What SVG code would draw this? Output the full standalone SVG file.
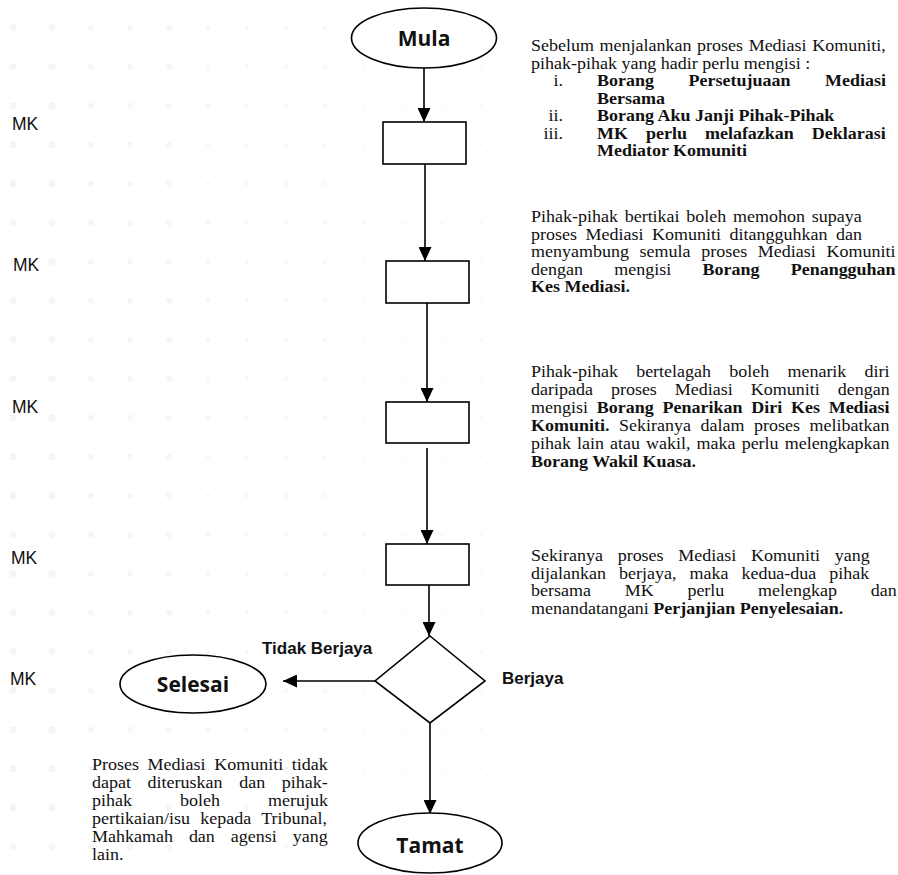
<svg xmlns="http://www.w3.org/2000/svg" width="898" height="875" viewBox="0 0 898 875">
<style>
.bg{fill:#ffffff}
.shape{fill:#ffffff;stroke:#000000;stroke-width:1.6}
.conn{fill:none;stroke:#000000;stroke-width:1.6}
.term{font-family:"Open Sans","Noto Sans",sans-serif;font-weight:700;font-size:21px;fill:#111111;text-anchor:middle}
.lbl{font-family:"Liberation Sans",Arial,sans-serif;font-weight:700;font-size:17px;fill:#111111}
.mk{font-family:"Liberation Sans",Arial,sans-serif;font-size:17.5px;fill:#111111}
.p{font-family:"Liberation Serif","Times New Roman",serif;font-size:16px;fill:#111111}
.b{font-weight:700}
.num{text-anchor:end}
</style>
<defs>
<marker id="arr" markerUnits="userSpaceOnUse" markerWidth="14" markerHeight="13" refX="14" refY="6.5" orient="auto">
<path d="M0,0 L14,6.5 L0,13 Z" fill="#000000"/>
</marker>
<pattern id="dA" patternUnits="userSpaceOnUse" width="39" height="39"><circle cx="13" cy="27.7" r="3.6" fill="#f4f5f5"/></pattern>
<pattern id="dB" patternUnits="userSpaceOnUse" width="39" height="39"><circle cx="13" cy="27.7" r="3" fill="#f5f6f6"/></pattern>
<pattern id="dC" patternUnits="userSpaceOnUse" width="39" height="39"><circle cx="13" cy="27.7" r="2.2" fill="#f6f7f7"/></pattern>
<pattern id="dD" patternUnits="userSpaceOnUse" width="39" height="39"><circle cx="13" cy="27.7" r="1.5" fill="#f7f8f8"/></pattern>
</defs>
<rect class="bg" x="0" y="0" width="898" height="875"/>
<g id="background-dots">
<rect x="0" y="0" width="78" height="875" fill="url(#dA)"/>
<rect x="78" y="0" width="117" height="875" fill="url(#dB)"/>
<rect x="195" y="0" width="156" height="875" fill="url(#dC)"/>
<rect x="351" y="0" width="195" height="875" fill="url(#dD)"/>
</g>

<g id="connectors">
<line class="conn" x1="424" y1="68" x2="424" y2="122" marker-end="url(#arr)"/>
<line class="conn" x1="425" y1="164" x2="425" y2="261" marker-end="url(#arr)"/>
<line class="conn" x1="427" y1="303" x2="427" y2="402" marker-end="url(#arr)"/>
<line class="conn" x1="427" y1="448" x2="427" y2="544" marker-end="url(#arr)"/>
<line class="conn" x1="429" y1="585" x2="429" y2="636" marker-end="url(#arr)"/>
<line class="conn" x1="375" y1="681" x2="283" y2="681" marker-end="url(#arr)"/>
<line class="conn" x1="430" y1="723" x2="430" y2="814" marker-end="url(#arr)"/>
</g>

<g id="node-mula">
<ellipse class="shape" cx="424" cy="38" rx="72.5" ry="30"/>
<text class="term" x="424" y="46">Mula</text>
</g>
<g id="node-box1"><rect class="shape" x="383" y="122" width="83" height="42"/></g>
<g id="node-box2"><rect class="shape" x="386" y="261" width="83" height="42"/></g>
<g id="node-box3"><rect class="shape" x="386" y="402" width="83" height="41"/></g>
<g id="node-box4"><rect class="shape" x="386" y="544" width="83" height="41"/></g>
<g id="node-decision"><polygon class="shape" points="430,636 485,681 430,723 375,681"/></g>
<g id="node-selesai">
<ellipse class="shape" cx="193" cy="684" rx="73" ry="29"/>
<text class="term" x="193" y="692">Selesai</text>
</g>
<g id="node-tamat">
<ellipse class="shape" cx="430" cy="843" rx="72" ry="30"/>
<text class="term" x="430" y="853">Tamat</text>
</g>

<g id="edge-labels">
<text class="lbl" x="262" y="654">Tidak Berjaya</text>
<text class="lbl" x="502" y="684">Berjaya</text>
</g>

<g id="mk-labels">
<text class="mk" x="12" y="130">MK</text>
<text class="mk" x="13" y="271">MK</text>
<text class="mk" x="12" y="413">MK</text>
<text class="mk" x="11" y="564">MK</text>
<text class="mk" x="10" y="685">MK</text>
</g>

<g id="note-1">
<text class="p" transform="translate(531 51) scale(1.125 1)" style="word-spacing:1px">Sebelum menjalankan proses Mediasi Komuniti,</text>
<text class="p" transform="translate(531 68.5) scale(1.125 1)">pihak-pihak yang hadir perlu mengisi :</text>
<text class="p num" transform="translate(563 86) scale(1.125 1)">i.</text>
<text class="p b" transform="translate(597 86) scale(1.125 1)" style="word-spacing:26.7px">Borang Persetujuaan Mediasi</text>
<text class="p b" transform="translate(597 103.5) scale(1.125 1)">Bersama</text>
<text class="p num" transform="translate(563 121) scale(1.125 1)">ii.</text>
<text class="p b" transform="translate(597 121) scale(1.125 1)">Borang Aku Janji Pihak-Pihak</text>
<text class="p num" transform="translate(563 138.5) scale(1.125 1)">iii.</text>
<text class="p b" transform="translate(597 138.5) scale(1.125 1)" style="word-spacing:12px">MK perlu melafazkan Deklarasi</text>
<text class="p b" transform="translate(597 156) scale(1.125 1)">Mediator Komuniti</text>
</g>

<g id="note-2">
<text class="p" transform="translate(531 222) scale(1.125 1)" style="word-spacing:2px">Pihak-pihak bertikai boleh memohon supaya</text>
<text class="p" transform="translate(531 239.5) scale(1.125 1)" style="word-spacing:3.6px">proses Mediasi Komuniti ditangguhkan dan</text>
<text class="p" transform="translate(531 257) scale(1.125 1)" style="word-spacing:5.5px">menyambung semula proses Mediasi Komuniti</text>
<text class="p" transform="translate(531 274.5) scale(1.125 1)" style="word-spacing:23.8px">dengan mengisi <tspan class="b">Borang Penangguhan</tspan></text>
<text class="p b" transform="translate(531 292) scale(1.125 1)">Kes Mediasi.</text>
</g>

<g id="note-3">
<text class="p" transform="translate(531 377) scale(1.125 1)" style="word-spacing:12.2px">Pihak-pihak bertelagah boleh menarik diri</text>
<text class="p" transform="translate(531 395) scale(1.125 1)" style="word-spacing:12px">daripada proses Mediasi Komuniti dengan</text>
<text class="p" transform="translate(531 413) scale(1.125 1)" style="word-spacing:3.8px">mengisi <tspan class="b">Borang Penarikan Diri Kes Mediasi</tspan></text>
<text class="p" transform="translate(531 431) scale(1.125 1)" style="word-spacing:4.5px"><tspan class="b">Komuniti.</tspan> Sekiranya dalam proses melibatkan</text>
<text class="p" transform="translate(531 449) scale(1.125 1)" style="word-spacing:1.4px">pihak lain atau wakil, maka perlu melengkapkan</text>
<text class="p b" transform="translate(531 467) scale(1.125 1)">Borang Wakil Kuasa.</text>
</g>

<g id="note-4">
<text class="p" transform="translate(531 561) scale(1.125 1)" style="word-spacing:9.1px">Sekiranya proses Mediasi Komuniti yang</text>
<text class="p" transform="translate(531 578.5) scale(1.125 1)" style="word-spacing:7.6px">dijalankan berjaya, maka kedua-dua pihak</text>
<text class="p" transform="translate(531 596) scale(1.125 1)" style="word-spacing:26px">bersama MK perlu melengkap dan</text>
<text class="p" transform="translate(531 613.5) scale(1.125 1)">menandatangani <tspan class="b">Perjanjian Penyelesaian.</tspan></text>
</g>

<g id="note-5">
<text class="p" transform="translate(92 770) scale(1.125 1)" style="word-spacing:3.7px">Proses Mediasi Komuniti tidak</text>
<text class="p" transform="translate(92 788) scale(1.125 1)" style="word-spacing:10.8px">dapat diteruskan dan pihak-</text>
<text class="p" transform="translate(92 806) scale(1.125 1)" style="word-spacing:38.7px">pihak boleh merujuk</text>
<text class="p" transform="translate(92 824) scale(1.125 1)" style="word-spacing:5.2px">pertikaian/isu kepada Tribunal,</text>
<text class="p" transform="translate(92 842) scale(1.125 1)" style="word-spacing:10.2px">Mahkamah dan agensi yang</text>
<text class="p" transform="translate(92 860) scale(1.125 1)">lain.</text>
</g>
</svg>
